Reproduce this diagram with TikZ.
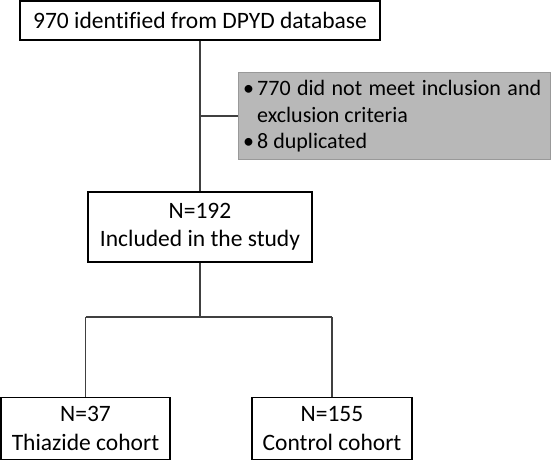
\documentclass[tikz,border=0pt]{standalone}
\usepackage{fontspec}
\setmainfont{Carlito}[Ligatures={NoCommon}]
\begin{document}
\begin{tikzpicture}[x=1pt,y=-1pt,
  box/.style={draw=black, line width=1.3pt, fill=white, inner sep=0pt, align=center,
    font=\fontsize{23.5}{28.5}\selectfont},
  graybox/.style={draw=black!40, line width=1.3pt, fill=black!28, inner sep=0pt},
  conn/.style={draw=black!75, line width=1.3pt}]
\useasboundingbox (0,0) rectangle (552,461);
\node[box, minimum width=360pt, minimum height=39pt] (top) at (200,20.5) {970 identified from DPYD database};
\node[graybox, minimum width=312pt, minimum height=87pt] (excl) at (394.5,116) {};
\node[anchor=north west, inner sep=0pt, align=left, font=\fontsize{22}{26.5}\selectfont] (excltext) at (240,80.5)
  {\makebox[17pt][c]{\textbullet}\makebox[284pt][s]{770 did not meet inclusion and}\\
   \hspace*{17pt}exclusion criteria\\
   \makebox[17pt][c]{\textbullet}8 duplicated};
\node[box, minimum width=224pt, minimum height=70pt] (mid) at (200,227) {N=192\\Included in the study};
\node[box, minimum width=169pt, minimum height=62pt] (left) at (85.5,428.5) {N=37\\Thiazide cohort};
\node[box, minimum width=160pt, minimum height=62pt] (right) at (332,428.5) {N=155\\Control cohort};
\coordinate (j1) at (200,116);
\coordinate (split) at (200,317);
\coordinate (sl) at (85.5,317);
\coordinate (sr) at (332,317);
\draw[conn] (top.south) -- (mid.north);
\draw[conn] (j1) -- (excl.west);
\draw[conn] (mid.south) -- (split);
\draw[conn] (sl) -- (sr);
\draw[conn] (sl) -- (left.north);
\draw[conn] (sr) -- (right.north);
\end{tikzpicture}
\end{document}
